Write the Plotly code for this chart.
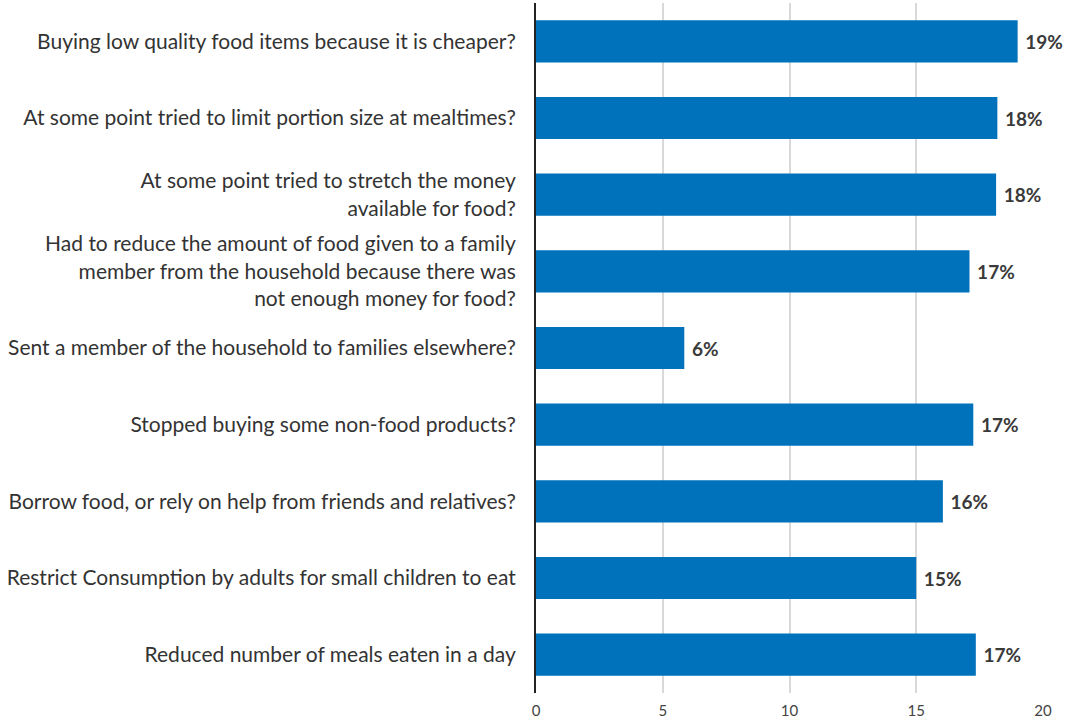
import plotly.graph_objects as go

# Coping strategies and share of households reporting them (%)
categories = [
    "Buying low quality food items because it is cheaper?",
    "At some point tried to limit portion size at mealtimes?",
    "At some point tried to stretch the money<br>available for food?",
    "Had to reduce the amount of food given to a family<br>member from the household because there was<br>not enough money for food?",
    "Sent a member of the household to families elsewhere?",
    "Stopped buying some non-food products?",
    "Borrow food, or rely on help from friends and relatives?",
    "Restrict Consumption by adults for small children to eat",
    "Reduced number of meals eaten in a day",
]
values = [19.0, 18.2, 18.15, 17.1, 5.85, 17.25, 16.05, 15.0, 17.35]
x_ticks = [0, 5, 10, 15, 20]

FONT = "Lato, 'Open Sans', sans-serif"
BAR_COLOR = "#0072bc"

fig = go.Figure(
    go.Bar(
        x=values,
        y=categories,
        orientation="h",
        marker=dict(color=BAR_COLOR, line=dict(width=0)),
        texttemplate=" %{x:.0f}%",
        textposition="outside",
        textfont=dict(family=FONT, size=19, color="#3a3a3a", weight="bold"),
        constraintext="none",
        cliponaxis=False,
        hoverinfo="skip",
    )
)

fig.update_layout(
    width=1065,
    height=720,
    margin=dict(l=536, r=22, t=3, b=27),
    paper_bgcolor="white",
    plot_bgcolor="white",
    bargap=0.45,
    showlegend=False,
    font=dict(family=FONT, color="#333333"),
)

fig.update_xaxes(
    range=[0, 20],
    tickvals=x_ticks,
    showgrid=True,
    gridcolor="#d9d9d9",
    gridwidth=1.5,
    zeroline=False,
    showline=False,
    tickfont=dict(family=FONT, size=15, color="#444444"),
    ticks="",
    ticklabelstandoff=7,
    automargin=False,
)

fig.update_yaxes(
    autorange="reversed",
    showline=True,
    linecolor="#222222",
    linewidth=2,
    ticks="",
    ticklabelstandoff=14,
    tickfont=dict(family=FONT, size=21, color="#333333"),
    automargin=False,
)

fig.write_html("out.html")
